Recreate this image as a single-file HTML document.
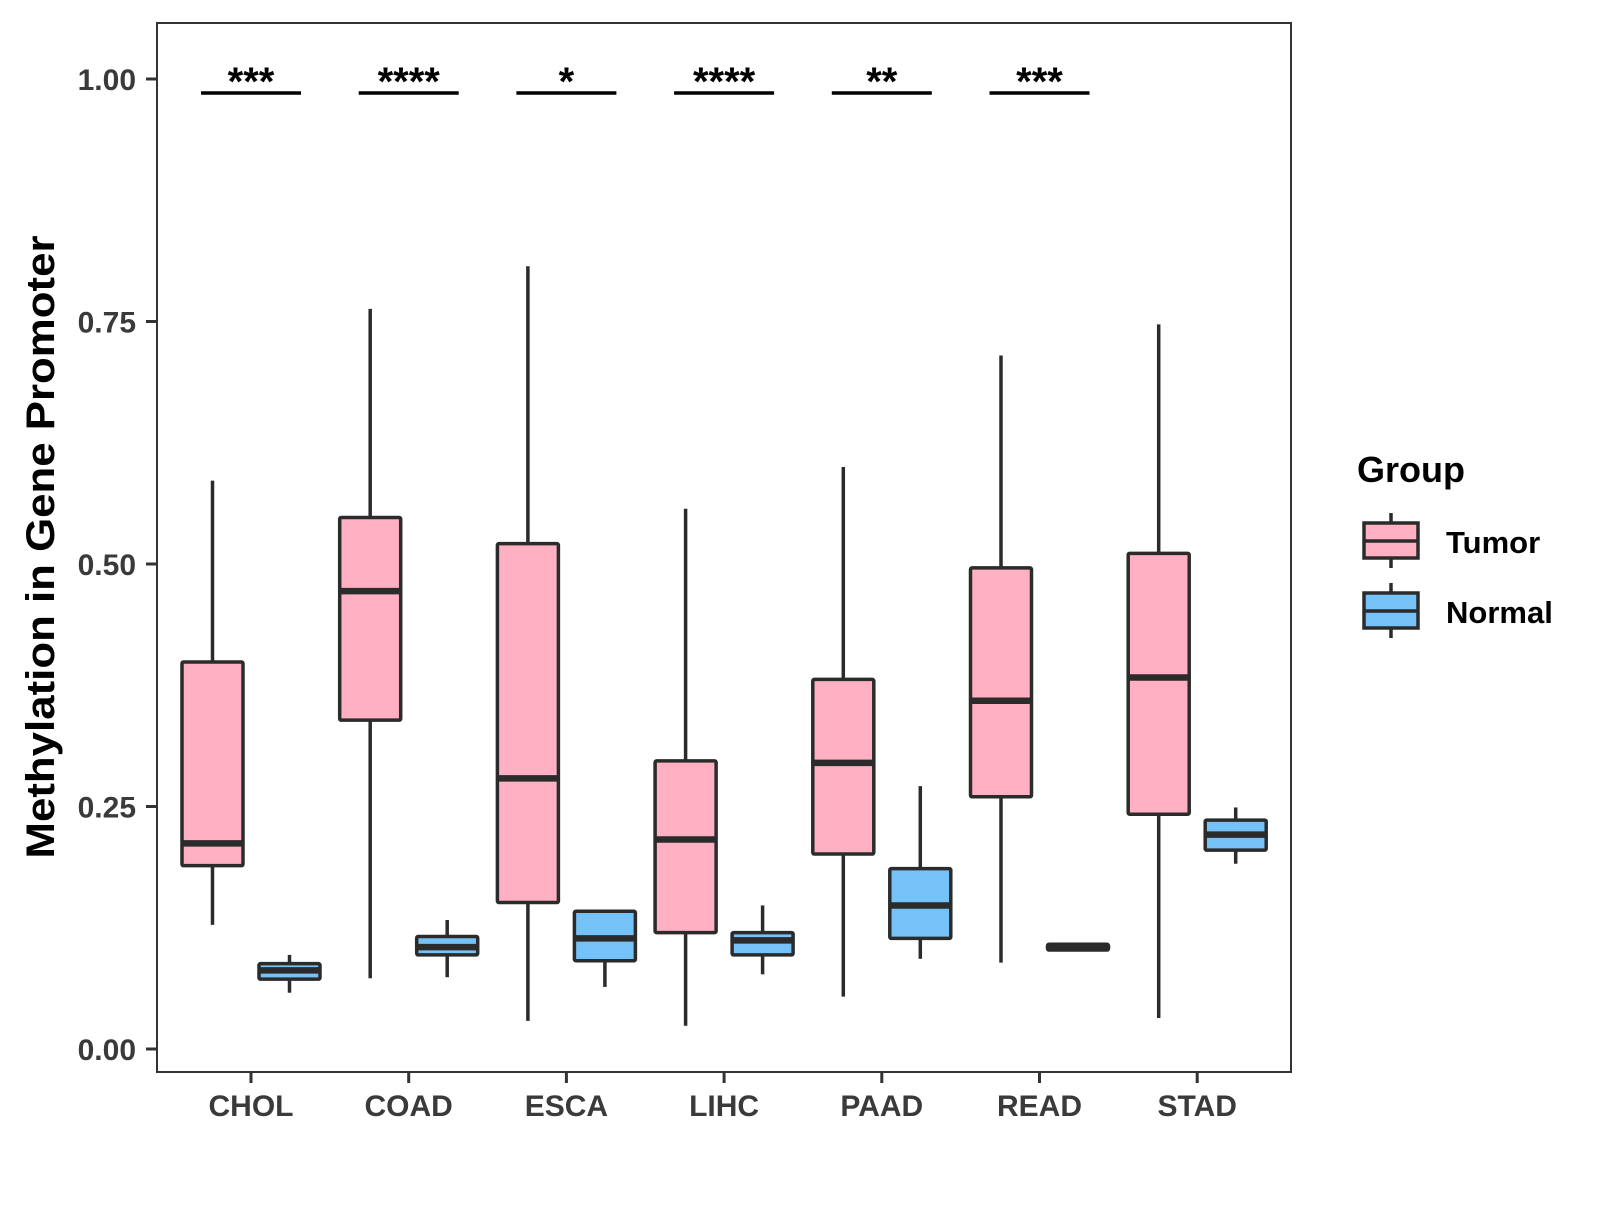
<!DOCTYPE html>
<html><head><meta charset="utf-8"><style>
html,body{margin:0;padding:0;background:#fff;}
svg text{font-family:"Liberation Sans",Arial,sans-serif;font-weight:bold;}
</style></head><body>
<svg id="chart" width="1600" height="1200" viewBox="0 0 1600 1200" xmlns="http://www.w3.org/2000/svg">
<rect x="0" y="0" width="1600" height="1200" fill="#fff"/>
<g id="marks"></g>
<rect x="157" y="23" width="1134" height="1049" fill="none" stroke="#333" stroke-width="2"/>
<g id="axes"></g>
<text transform="translate(54,547) rotate(-90)" text-anchor="middle" font-size="40" textLength="623" lengthAdjust="spacingAndGlyphs" fill="#000">Methylation in Gene Promoter</text>
<g>
<text x="1357" y="482" font-size="36" fill="#000">Group</text>
<g>
<line x1="1391" y1="513" x2="1391" y2="568" stroke="#2b2b2b" stroke-width="3.5"/>
<rect x="1364" y="523" width="54" height="35" fill="#FFB0C2" stroke="#2b2b2b" stroke-width="3.5"/>
<line x1="1364" y1="541" x2="1418" y2="541" stroke="#2b2b2b" stroke-width="3.5"/>
<text x="1446" y="553" font-size="31" fill="#000">Tumor</text>
</g>
<g>
<line x1="1391" y1="583" x2="1391" y2="638" stroke="#2b2b2b" stroke-width="3.5"/>
<rect x="1364" y="593" width="54" height="35" fill="#75C2F8" stroke="#2b2b2b" stroke-width="3.5"/>
<line x1="1364" y1="611" x2="1418" y2="611" stroke="#2b2b2b" stroke-width="3.5"/>
<text x="1446" y="623" font-size="31" fill="#000">Normal</text>
</g>
</g>
</svg>
<script>
const categories = ["CHOL","COAD","ESCA","LIHC","PAAD","READ","STAD"];
// [low whisker, q1, median, q3, high whisker]
const tumorStats = [
  [0.128,0.189,0.212,0.399,0.586],
  [0.073,0.339,0.472,0.548,0.763],
  [0.029,0.151,0.279,0.521,0.807],
  [0.024,0.120,0.216,0.297,0.557],
  [0.054,0.201,0.295,0.381,0.600],
  [0.089,0.260,0.359,0.496,0.715],
  [0.032,0.242,0.383,0.511,0.747]
];
const normalStats = [
  [0.058,0.072,0.081,0.088,0.097],
  [0.074,0.097,0.105,0.116,0.133],
  [0.064,0.091,0.114,0.142,0.142],
  [0.077,0.097,0.112,0.120,0.148],
  [0.093,0.114,0.148,0.186,0.271],
  [0.105,0.102,0.105,0.108,0.105],
  [0.191,0.205,0.221,0.236,0.249]
];
const sigLabels = ["***","****","*","****","**","***"];
const yTicks = [0,0.25,0.5,0.75,1.0];
const yTickLabels = ["0.00","0.25","0.50","0.75","1.00"];

const NS="http://www.w3.org/2000/svg";
function yScale(v){return 1049 - v*970;}
function xScale(i){return 251 + i*157.7;}
function mk(tag,attrs,parent){const e=document.createElementNS(NS,tag);for(const k in attrs)e.setAttribute(k,attrs[k]);parent.appendChild(e);return e;}
const marks=document.getElementById('marks');
const axes=document.getElementById('axes');
const stroke="#2b2b2b";
function drawBox(s,cx,fill,name){
  const g=mk('g',{},marks);
  
  
  const hw=30.5;
  mk('line',{x1:cx,x2:cx,y1:yScale(s[4]),y2:yScale(s[3]),stroke:stroke,'stroke-width':3.5},g);
  mk('line',{x1:cx,x2:cx,y1:yScale(s[1]),y2:yScale(s[0]),stroke:stroke,'stroke-width':3.5},g);
  const top=yScale(s[3]),bot=yScale(s[1]);
  mk('rect',{x:cx-hw,y:Math.min(top,bot),width:hw*2,height:Math.max(Math.abs(bot-top),0.5),fill:fill,stroke:stroke,'stroke-width':3.5,rx:1.5},g);
  mk('line',{x1:cx-hw,x2:cx+hw,y1:yScale(s[2]),y2:yScale(s[2]),stroke:stroke,'stroke-width':6.5},g);
}
categories.forEach((c,i)=>{
  const cx=xScale(i);
  drawBox(tumorStats[i],cx-38.5,"#FFB0C2","box-tumor-"+c.toLowerCase());
  drawBox(normalStats[i],cx+38.5,"#75C2F8","box-normal-"+c.toLowerCase());
  mk('line',{x1:cx,x2:cx,y1:1072,y2:1083,stroke:"#333",'stroke-width':3},axes);
  const t=mk('text',{x:cx,y:1116,'text-anchor':'middle','font-size':30,fill:'#3a3a3a'},axes);
  t.textContent=c;
  
  
});
sigLabels.forEach((s,i)=>{
  const cx=xScale(i);
  const l=mk('line',{x1:cx-50,x2:cx+50,y1:93,y2:93,stroke:"#000",'stroke-width':3.5},marks);
  
  
  const t=mk('text',{x:cx,y:95,'text-anchor':'middle','font-size':40,fill:'#000'},marks);
  t.textContent=s;
  
  
});
yTicks.forEach((v,i)=>{
  const y=yScale(v);
  mk('line',{x1:146,x2:157,y1:y,y2:y,stroke:"#333",'stroke-width':3},axes);
  const t=mk('text',{x:136,y:y+11,'text-anchor':'end','font-size':30,fill:'#3a3a3a'},axes);
  t.textContent=yTickLabels[i];
  
  
});
</script>
</body></html>
